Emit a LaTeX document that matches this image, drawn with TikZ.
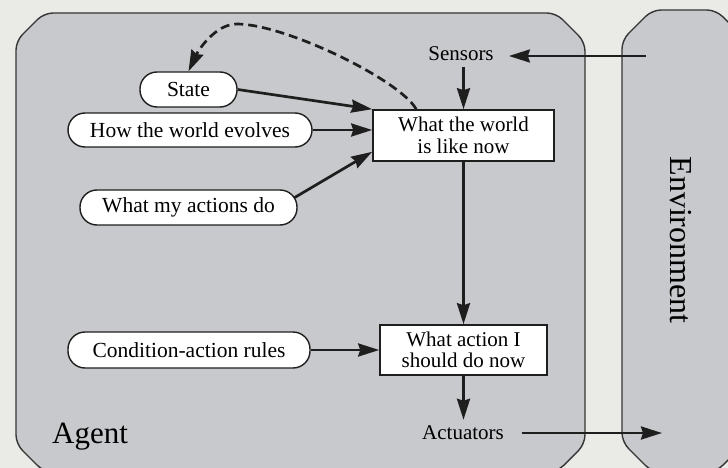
\documentclass[tikz,border=0pt]{standalone}
\usepackage{fontspec}
\setmainfont{Liberation Serif}
\usetikzlibrary{arrows.meta,calc}
\definecolor{bgc}{HTML}{EAEAE7}
\definecolor{panel}{HTML}{C8C9CC}
\definecolor{ink}{HTML}{1E1E1E}
\begin{document}
\begin{tikzpicture}[x=1pt,y=-1pt,
  panelshape/.style={draw=ink!90, line width=1.4pt, fill=panel, rounded corners=9pt},
  flow/.style={draw=ink, line width=2.7pt, -{Stealth[length=21pt,width=13pt,inset=2pt]}},
  pill/.style={draw=ink, line width=1.4pt, fill=white, rounded corners=17pt, font=\fontsize{21.5}{22}\selectfont, inner sep=0pt},
  procbox/.style={draw=ink, line width=1.6pt, fill=white, align=center, font=\fontsize{21}{21.5}\selectfont, inner sep=0pt},
  plainlabel/.style={font=\fontsize{21}{22}\selectfont, inner xsep=15pt, inner ysep=6pt},
]
\useasboundingbox (0,0) rectangle (728,468);
\clip (0,0) rectangle (728,468);
\fill[bgc] (0,0) rectangle (728,468);
% Agent panel
\draw[panelshape] (44,13) -- (556,13) -- (585,42) -- (585,444) -- (557,472) -- (44,472) -- (16,444) -- (16,41) -- cycle;
% Environment panel
\draw[panelshape] (652,10) -- (716,10) -- (746,40) -- (746,442) -- (716,472) -- (652,472) -- (622,442) -- (622,40) -- cycle;

% nodes
\node[pill, minimum width=97pt, minimum height=35pt] (state) at (188.5,89.5) {State};
\node[pill, minimum width=244pt, minimum height=34pt] (evolve) at (190,130) {How the world evolves};
\node[pill, minimum width=217pt, minimum height=35pt] (acts) at (188.5,207.5) {What my actions do};
\node[pill, minimum width=242pt, minimum height=36pt] (rules) at (189,350) {Condition-action rules};
\node[procbox, minimum width=181pt, minimum height=51pt] (world) at (463.5,135.5) {What the world\\is like now};
\node[procbox, minimum width=167pt, minimum height=50pt] (decide) at (463.5,350) {What action I\\should do now};
\node[plainlabel] (sensors) at (461,54) {Sensors};
\node[plainlabel, inner xsep=18pt] (actuators) at (463,433) {Actuators};
\node[font=\fontsize{31}{31}\selectfont, anchor=base west, inner sep=0pt] (agentlabel) at (52,443) {Agent};
\node[font=\fontsize{32}{32}\selectfont, rotate=-90, inner sep=0pt] (envlabel) at (681,240) {Environment};

\coordinate (envin) at (646,56);
\coordinate (envout) at (662,433);

% connectors
\draw[flow] (envin) -- (envin -| sensors.east);
\draw[flow] (sensors.south -| world.north) -- (world.north);
\draw[flow] (world.south) -- (decide.north);
\draw[flow] (decide.south) -- (decide.south |- actuators.north);
\draw[flow] (actuators.east) -- (envout);
\draw[flow] (state.east) -- (world.north west);
\draw[flow] (evolve.east) -- (evolve.east -| world.west);
\draw[flow] ($(acts.east)+(-3,-10)$) -- ($(world.south west)+(0,-10)$);
\draw[flow] (rules.east) -- (rules.east -| decide.west);
\draw[flow, dash pattern=on 9pt off 5pt] ($(world.north west)+(44,0)$) .. controls (400,80) and (285,24) .. (237,24) .. controls (215,24) and (198,51) .. (state.north);
\end{tikzpicture}
\end{document}
